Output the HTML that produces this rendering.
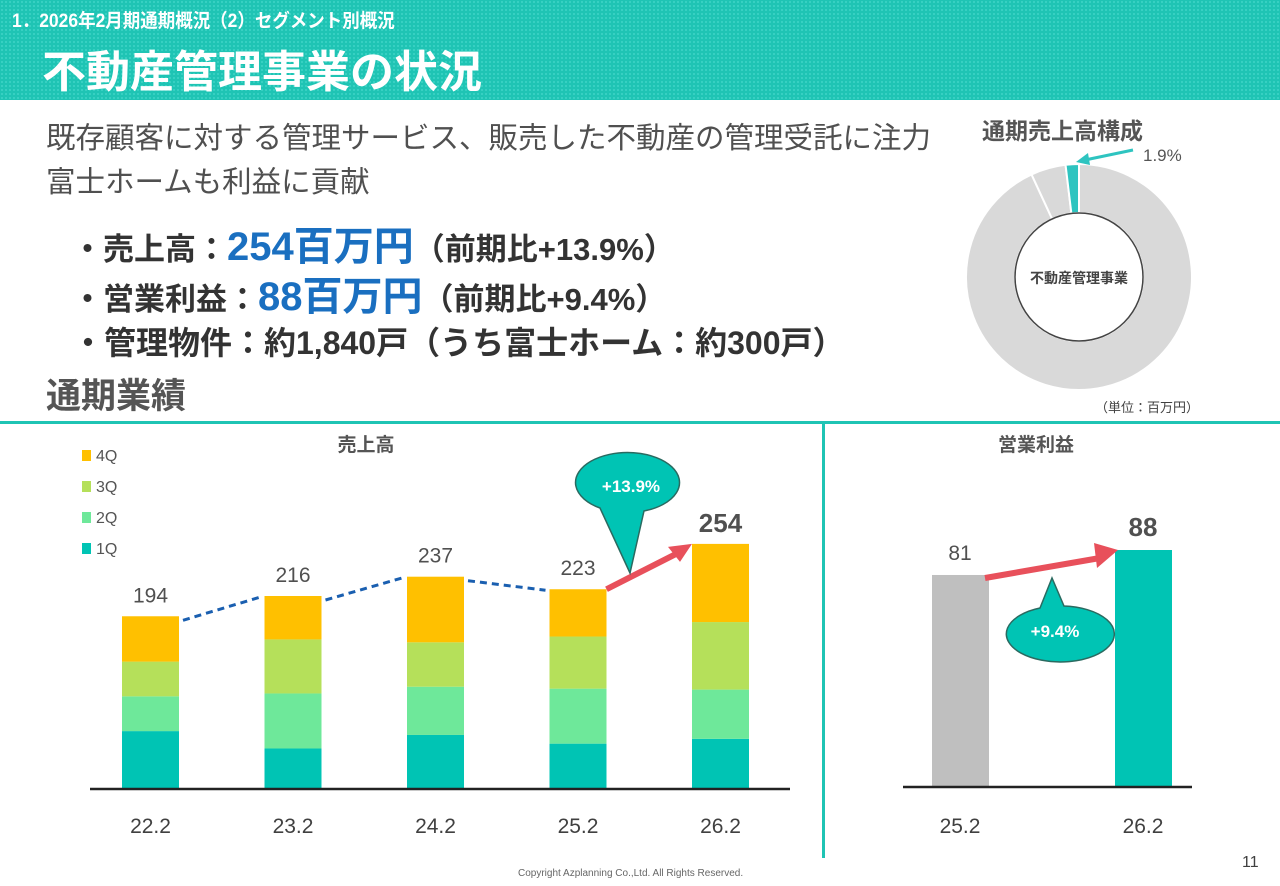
<!DOCTYPE html>
<html><head><meta charset="utf-8">
<style>
body{margin:0;width:1280px;height:886px;position:relative;overflow:hidden;background:#fff;font-family:"Liberation Sans","Noto Sans CJK JP",sans-serif;color:#404040}
.a{position:absolute;white-space:nowrap}
</style></head><body>
<div class="a" style="left:0;top:0;width:1280px;height:100px;background:#1fc4b4;background-image:radial-gradient(#3fd4c6 1px,transparent 1px);background-size:4px 4px"></div>
<div class="a" style="left:12px;top:6px;font-size:19px;font-weight:bold;color:#fff;transform:scaleX(0.92);transform-origin:left">1．2026年2月期通期概況（2）セグメント別概況</div>
<div class="a" style="left:42px;top:36px;font-size:44px;font-weight:bold;color:#fff">不動産管理事業の状況</div>
<div class="a" style="left:46px;top:117px;font-size:29.5px;line-height:44px;color:#505050">既存顧客に対する管理サービス、販売した不動産の管理受託に注力<br>富士ホームも利益に貢献</div>
<div class="a" style="left:72px;top:214px;font-size:31px;font-weight:bold;color:#333">・売上高：<span style="font-size:40px;color:#1a6fc0">254百万円</span>（前期比+13.9%）</div>
<div class="a" style="left:72px;top:264px;font-size:31px;font-weight:bold;color:#333">・営業利益：<span style="font-size:40px;color:#1a6fc0">88百万円</span>（前期比+9.4%）</div>
<div class="a" style="left:72px;top:318px;font-size:32px;font-weight:bold;color:#333">・管理物件：約1,840戸（うち富士ホーム：約300戸）</div>
<div class="a" style="left:46px;top:368px;font-size:35px;font-weight:bold;color:#555">通期業績</div>
<div class="a" style="left:982px;top:112px;font-size:23px;font-weight:bold;color:#555">通期売上高構成</div>
<div class="a" style="left:1095px;top:397px;font-size:13px">（単位：百万円）</div>
<div class="a" style="left:0;top:421px;width:1280px;height:3px;background:#1fc4b4"></div>
<div class="a" style="left:822px;top:424px;width:3px;height:434px;background:#1fc4b4"></div>
<div class="a" style="left:518px;top:868px;font-size:10px;color:#666">Copyright Azplanning Co.,Ltd. All Rights Reserved.</div>
<div class="a" style="left:1242px;top:854px;font-size:16px">11</div>
<svg class="a" id="svg" style="left:0;top:0" width="1280" height="886"></svg>
<script>
const years=["22.2","23.2","24.2","25.2","26.2"];
const q1=[60,42,56,47,52];
const q2=[36,57,50,57,51];
const q3=[36,56,46,54,70];
const q4=[47,45,68,49,81];
const totals=["194","216","237","223","254"];
const profitYears=["25.2","26.2"];
const profitVals=[81,88];
const donutShares=[93.1,5.0,1.9];
const NS="http://www.w3.org/2000/svg",svg=document.getElementById('svg');
function el(t,a,txt){const e=document.createElementNS(NS,t);for(const k in a)e.setAttribute(k,a[k]);if(txt!==undefined)e.textContent=txt;svg.appendChild(e);return e;}
const base=789,sc=0.965;
const y=v=>base-v*sc;
const x0=i=>122+i*142.5;const bw=57;
const cols=["#00c4b4","#6ee89a","#b5e05a","#ffc000"];
const series=[q1,q2,q3,q4];
const tops=[];
years.forEach((yr,i)=>{let acc=0;series.forEach((s,k)=>{const r=el('rect',{x:x0(i),y:y(acc+s[i]),width:bw,height:s[i]*sc,fill:cols[k]});

acc+=s[i];});
tops.push(y(acc));
const bold=i===4;
const t=el('text',{x:x0(i)+bw/2,y:y(acc)-(bold?12:14),'text-anchor':'middle','font-size':bold?26:21,'font-weight':bold?'bold':'normal',fill:'#505050'},totals[i]);


const xl=el('text',{x:x0(i)+bw/2,y:833,'text-anchor':'middle','font-size':21,fill:'#404040'},yr);

});
const ax=el('line',{x1:90,x2:790,y1:base,y2:base,stroke:'#222','stroke-width':2.5});


for(let i=0;i<3;i++){const d=el('line',{x1:x0(i)+bw+4,y1:tops[i]+4,x2:x0(i+1)-4,y2:tops[i+1]+1,stroke:'#1a5fb0','stroke-width':3,'stroke-dasharray':'7 5'});

}
const ar=el('path',{d:`M${x0(3)+bw},${tops[3]} L${x0(4)-12},${tops[4]+8}`,stroke:'#e8505b','stroke-width':6,fill:'none'});


el('polygon',{points:`${x0(4)},${tops[4]} ${x0(4)-24},${tops[4]+3} ${x0(4)-12},${tops[4]+18}`,fill:'#e8505b'});
const bub=el('path',{d:'M600,508 A52,30 0 1 1 644,511 L630,573 Z',fill:'#00c4b4',stroke:'#2a6a60','stroke-width':1.5});


el('text',{x:631,y:492,'text-anchor':'middle','font-size':17,'font-weight':'bold',fill:'#fff'},'+13.9%');
el('text',{x:366,y:451,'text-anchor':'middle','font-size':19,'font-weight':'bold',fill:'#555'},'売上高');
["4Q","3Q","2Q","1Q"].forEach((l,k)=>{const yy=458+k*31;const r=el('rect',{x:82,y:yy-8,width:9,height:11,fill:cols[3-k]});


el('text',{x:96,y:yy+3,'font-size':16,fill:'#555'},l);});
// profit chart (axis not zero-based)
const pb=787,pmin=21.6,ps=237/(88-pmin);
const py=v=>pb-(v-pmin)*ps;
const px=[932,1115],pc=["#bfbfbf","#00c4b4"];
profitVals.forEach((v,i)=>{const r=el('rect',{x:px[i],y:py(v),width:57,height:pb-py(v),fill:pc[i]});


el('text',{x:px[i]+28,y:py(v)-(i?14:15),'text-anchor':'middle','font-size':i?26:21,'font-weight':i?'bold':'normal',fill:'#505050'},String(v));
el('text',{x:px[i]+28,y:833,'text-anchor':'middle','font-size':21,fill:'#404040'},profitYears[i]);});
el('line',{x1:903,x2:1192,y1:pb,y2:pb,stroke:'#222','stroke-width':2.5});
el('path',{d:`M985,${py(81)+3} L1100,${py(88)+8}`,stroke:'#e8505b','stroke-width':6});
el('polygon',{points:`1118,${py(88)} 1094,${py(88)-7} 1097,${py(88)+18}`,fill:'#e8505b'});
const pb2=el('path',{d:'M1040,608 L1052,578 L1064,606 A54,28 0 1 1 1040,608 Z',fill:'#00c4b4',stroke:'#2a6a60','stroke-width':1.5});


el('text',{x:1055,y:637,'text-anchor':'middle','font-size':17,'font-weight':'bold',fill:'#fff'},'+9.4%');
el('text',{x:1036,y:451,'text-anchor':'middle','font-size':19,'font-weight':'bold',fill:'#555'},'営業利益');
// donut
const cx=1079,cy=277,R=113,r0=64;
const dcol=["#d9d9d9","#d9d9d9","#2ec4c0"];
let ang=0;
donutShares.forEach((s,i)=>{const a0=ang/100*2*Math.PI,a1=(ang+s)/100*2*Math.PI;ang+=s;
const p=(a,rr)=>[cx+rr*Math.sin(a),cy-rr*Math.cos(a)];
const [ax0,ay0]=p(a0,R),[ax1,ay1]=p(a1,R),[bx1,by1]=p(a1,r0),[bx0,by0]=p(a0,r0);const lg=s>50?1:0;
const sl=el('path',{d:`M${ax0},${ay0} A${R},${R} 0 ${lg} 1 ${ax1},${ay1} L${bx1},${by1} A${r0},${r0} 0 ${lg} 0 ${bx0},${by0} Z`,fill:dcol[i],stroke:'#fff','stroke-width':2});

});
el('circle',{cx:cx,cy:cy,r:r0,fill:'#fff',stroke:'#444','stroke-width':1.5});
el('text',{x:cx,y:cy+6,'text-anchor':'middle','font-size':14,'font-weight':'bold',fill:'#444'},'不動産管理事業');
el('line',{x1:1133,y1:150,x2:1085,y2:160,stroke:'#2ec4c0','stroke-width':3});
el('polygon',{points:'1076,162 1088,153 1090,165',fill:'#2ec4c0'});
el('text',{x:1143,y:161,'font-size':17,fill:'#555'},donutShares[2]+'%');
</script>
</body></html>
